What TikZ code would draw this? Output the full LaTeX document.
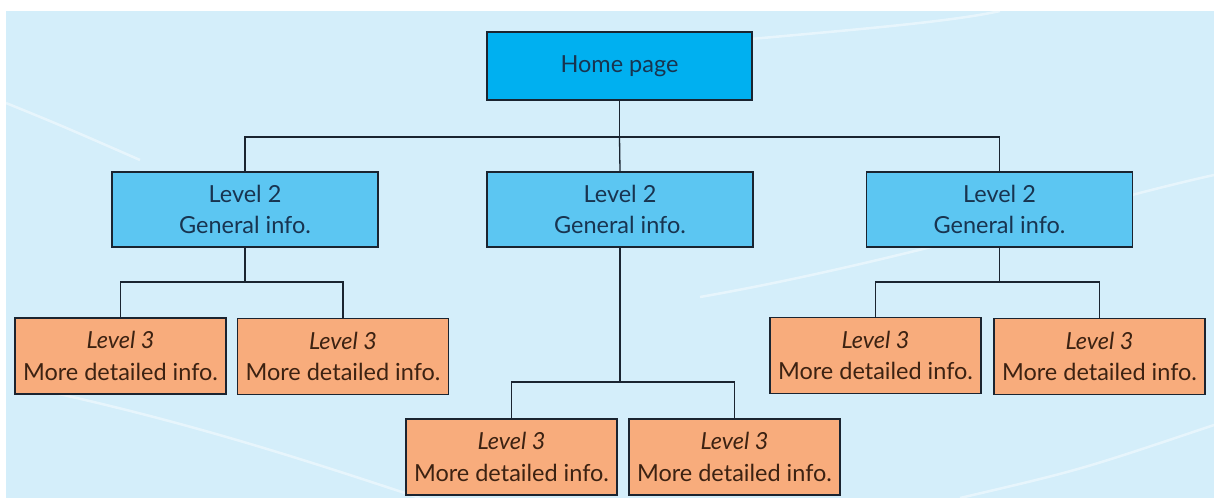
\documentclass[tikz,border=0pt]{standalone}
\usepackage{fontspec}
\setmainfont{Lato}
\definecolor{bgblue}{RGB}{212,238,250}
\definecolor{homeblue}{RGB}{0,176,240}
\definecolor{lvtwo}{RGB}{92,198,242}
\definecolor{lvthree}{RGB}{248,172,124}
\definecolor{edge}{RGB}{26,36,48}
\definecolor{bluetext}{RGB}{24,52,80}
\definecolor{browntext}{RGB}{60,34,18}
\begin{document}
\begin{tikzpicture}[x=1pt,y=-1pt,
  boxbase/.style={draw=edge,line width=1.8pt,inner sep=0pt,anchor=center,align=center,
    font=\fontsize{23.5}{31.5}\selectfont},
  homebox/.style={boxbase,fill=homeblue,text=bluetext,minimum width=265pt,minimum height=68pt},
  twobox/.style={boxbase,fill=lvtwo,text=bluetext,minimum width=266pt,minimum height=75pt},
  threebox/.style={boxbase,fill=lvthree,text=browntext,minimum width=211pt,minimum height=76pt},
  link/.style={draw=edge,line width=1.3pt},
  swirl/.style={draw=white,opacity=0.45,line width=2.5pt}]
\useasboundingbox (0,0) rectangle (1214,498);
\fill[white] (0,0) rectangle (1214,498);
\fill[bgblue] (6,11) rectangle (1214,498);
% faint background arcs
\draw[swirl] (6,103) .. controls (60,125) .. (140,160);
\draw[swirl] (50,392) .. controls (200,425) and (320,465) .. (420,498);
\draw[swirl] (740,40) .. controls (850,30) and (950,22) .. (1000,11);
\draw[swirl] (700,297) .. controls (900,262) and (1100,200) .. (1214,175);
\draw[swirl] (960,498) .. controls (1080,470) .. (1214,425);
% nodes
\node[homebox] (home) at (619.5,66) {Home page};
\node[twobox] (la) at (245,209.5) {Level 2\\General info.};
\node[twobox] (lb) at (620,209.5) {Level 2\\General info.};
\node[twobox] (lc) at (999.5,209.5) {Level 2\\General info.};
\node[threebox] (a1) at (120.5,356) {\textit{Level 3}\\More detailed info.};
\node[threebox] (a2) at (343,356.5) {\textit{Level 3}\\More detailed info.};
\node[threebox] (b1) at (511.5,457) {\textit{Level 3}\\More detailed info.};
\node[threebox] (b2) at (734.5,457) {\textit{Level 3}\\More detailed info.};
\node[threebox] (c1) at (875.5,355.5) {\textit{Level 3}\\More detailed info.};
\node[threebox] (c2) at (1099.5,356.5) {\textit{Level 3}\\More detailed info.};
% junctions
\coordinate (j0) at (619.5,137);
\coordinate (ja) at (245,282);
\coordinate (jb) at (620,382);
\coordinate (jc) at (999.5,282);
% connectors
\draw[link] (home.south) -- (j0);
\draw[link] (la.north) |- (j0) -| (lc.north);
\draw[link] (j0) -- (lb.north);
\draw[link] (la.south) -- (ja);
\draw[link] (a1.north) |- (ja) -| (a2.north);
\draw[link] (lb.south) -- (jb);
\draw[link] (b1.north) |- (jb) -| (b2.north);
\draw[link] (lc.south) -- (jc);
\draw[link] (c1.north) |- (jc) -| (c2.north);
\end{tikzpicture}
\end{document}
